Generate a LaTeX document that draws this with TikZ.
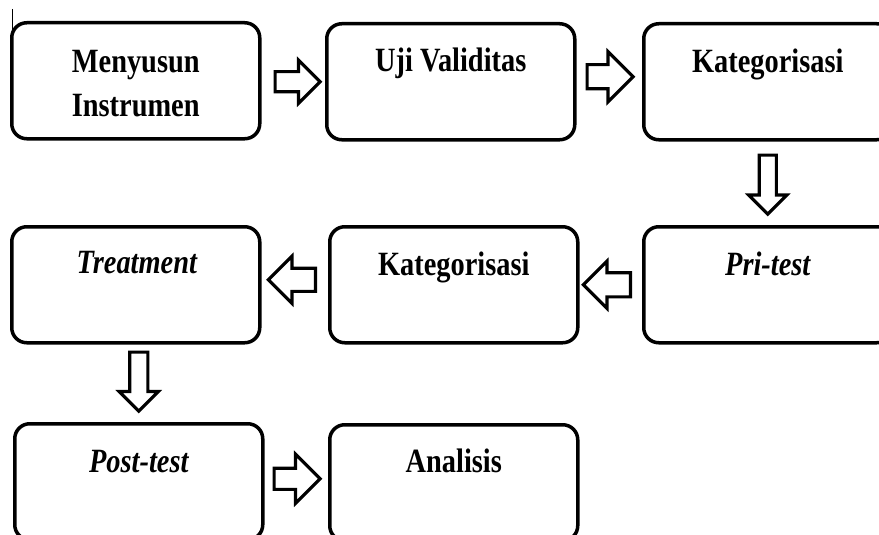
\documentclass[tikz,border=0pt]{standalone}
\usepackage{fontspec}
\setmainfont{Liberation Serif}[FakeStretch=0.835]
\usetikzlibrary{calc,shapes.arrows}

\tikzset{
  kotak/.style={draw, line width=3.5pt, rounded corners=15pt, minimum width=248pt, minimum height=116pt, anchor=north west, inner sep=0pt},
  judul/.style={font=\fontsize{34}{44}\selectfont\bfseries, align=center, anchor=base, inner sep=0pt},
  panah/.style={single arrow, draw, line width=3.2pt, inner xsep=0pt, inner ysep=9pt, minimum height=46pt, minimum width=0pt, single arrow head extend=12pt, single arrow head indent=0pt, anchor=tail},
}

\begin{document}
\begin{tikzpicture}[x=1pt, y=-1pt]
\useasboundingbox (0,0) rectangle (879,535);

% kotak
\foreach \n/\x/\y in {b1/10/21, b2/325/22, b3/642/22, b4/10/225, b5/328/225, b6/642/225, b7/13/422, b8/328/423}
  \node[kotak] (\n) at (\x,\y) {};

% tulisan
\node[judul] (t1) at ($(b1.north)+(0,96)$) {Menyusun\\Instrumen};
\node[judul] (t2) at ($(b2.north)+(0,50)$) {Uji Validitas};
\node[judul] (t3) at ($(b3.north)+(0,51)$) {Kategorisasi};
\node[judul] (t4) at ($(b4.north)+(1,48)$) {\itshape Treatment};
\node[judul] (t5) at ($(b5.north)+(0,50)$) {Kategorisasi};
\node[judul] (t6) at ($(b6.north)+(0,50)$) {\itshape Pri-test};
\node[judul] (t7) at ($(b7.north)+(0,50)$) {\itshape Post-test};
\node[judul] (t8) at ($(b8.north)+(0,49)$) {Analisis};

% panah (dari ekor)
\node[panah, inner ysep=8.5pt, single arrow head extend=11.5pt, minimum height=45pt] (p1) at ($(b1.east)+(12,1)$) {};
\node[panah, inner ysep=10.5pt, single arrow head extend=13pt] (p2) at ($(b2.east)+(9,-5)$) {};
\node[panah, rotate=-90, inner ysep=7pt, single arrow head extend=10.5pt, minimum height=59pt] (p3) at ($(b3.south)+(0,12)$) {};
\node[panah, rotate=180, inner ysep=10.5pt, single arrow head extend=11.5pt, minimum height=47pt] (p4) at ($(b6.west)+(-10,0)$) {};
\node[panah, rotate=180, inner ysep=10pt, single arrow head extend=12pt, minimum height=47pt] (p5) at ($(b5.west)+(-11,-5)$) {};
\node[panah, rotate=-90, inner ysep=7.5pt, single arrow head extend=10.5pt, minimum height=59pt] (p6) at ($(b4.south)+(3,6)$) {};
\node[panah, single arrow head extend=14pt] (p7) at ($(b7.east)+(8,-3)$) {};

% garis kecil di pojok
\draw[line width=0.8pt] (12.5,9) -- (12.5,44);
\end{tikzpicture}
\end{document}
